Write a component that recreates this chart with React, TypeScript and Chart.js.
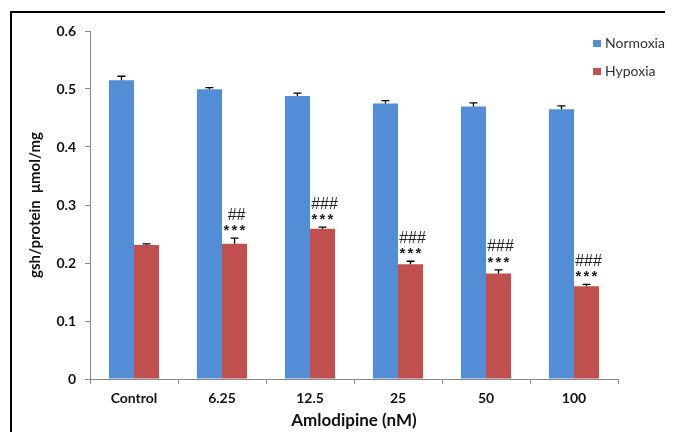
import React, { useEffect, useRef } from "react";
import { Chart, registerables } from "chart.js";

Chart.register(...registerables);

const categories = ["Control", "6.25", "12.5", "25", "50", "100"];
const normoxia = [0.515, 0.4995, 0.488, 0.475, 0.470, 0.465];
const normoxiaErr = [0.007, 0.003, 0.005, 0.005, 0.006, 0.006];
const hypoxia = [0.231, 0.233, 0.259, 0.198, 0.182, 0.160];
const hypoxiaErr = [0.002, 0.010, 0.003, 0.005, 0.006, 0.003];
const stars = ["", "***", "***", "***", "***", "***"];
const hashes = ["", "##", "###", "###", "###", "###"];
const yTicks = [0, 0.1, 0.2, 0.3, 0.4, 0.5, 0.6];

const BLUE = "#538DD5";
const RED = "#C0504D";
const TICK_FONT = { family: "Lato", size: 14, weight: "bold" as const };

const errorAndMarks = {
  id: "errorAndMarks",
  afterDatasetsDraw(chart: any) {
    const ctx = chart.ctx;
    const y = chart.scales.y;
    const errs = [normoxiaErr, hypoxiaErr];
    ctx.save();
    chart.data.datasets.forEach((ds: any, di: number) => {
      const meta = chart.getDatasetMeta(di);
      meta.data.forEach((bar: any, i: number) => {
        const v = ds.data[i];
        const top = y.getPixelForValue(v + errs[di][i]);
        const base = y.getPixelForValue(v);
        ctx.strokeStyle = "#000";
        ctx.lineWidth = 1.3;
        ctx.beginPath();
        ctx.moveTo(bar.x, base);
        ctx.lineTo(bar.x, top);
        ctx.moveTo(bar.x - 4, top);
        ctx.lineTo(bar.x + 4, top);
        ctx.stroke();
        if (di === 1) {
          ctx.fillStyle = "#222";
          ctx.textAlign = "center";
          ctx.textBaseline = "alphabetic";
          ctx.font = "bold 15px 'Liberation Sans'";
          const s = stars[i];
          for (let k = 0; k < s.length; k++) {
            ctx.fillText("*", bar.x + (k - (s.length - 1) / 2) * 8, top - 3);
          }
          ctx.font = "16px 'Liberation Sans'";
          if (hashes[i]) {
            ctx.fillText(hashes[i], bar.x + 2, top - 18.5);
          }
        }
      });
    });
    ctx.restore();
  },
};

const legendPlugin = {
  id: "customLegend",
  afterDraw(chart: any) {
    const ctx = chart.ctx;
    const items = [
      { label: "Normoxia", color: BLUE },
      { label: "Hypoxia", color: RED },
    ];
    ctx.save();
    items.forEach((it, i) => {
      const yy = 32 + i * 28;
      ctx.fillStyle = it.color;
      ctx.fillRect(585, yy, 8, 7);
      ctx.fillStyle = "#333";
      ctx.font = "14px 'Lato'";
      ctx.textAlign = "left";
      ctx.textBaseline = "middle";
      ctx.fillText(it.label, 597, yy + 3.5);
    });
    ctx.restore();
  },
};

export default function App() {
  const ref = useRef<HTMLCanvasElement | null>(null);
  useEffect(() => {
    if (!ref.current) return;
    const chart = new Chart(ref.current, {
      type: "bar",
      data: {
        labels: categories,
        datasets: [
          { label: "Normoxia", data: normoxia, backgroundColor: BLUE },
          { label: "Hypoxia", data: hypoxia, backgroundColor: RED },
        ],
      },
      options: {
        animation: false,
        responsive: false,
        maintainAspectRatio: false,
        events: [],
        layout: { padding: { top: 23, right: 55, left: 0, bottom: 0 } },
        plugins: {
          legend: { display: false },
          tooltip: { enabled: false },
        },
        datasets: {
          bar: { categoryPercentage: 0.57, barPercentage: 1.0 },
        },
        scales: {
          x: {
            offset: true,
            grid: {
              offset: true,
              drawOnChartArea: false,
              drawTicks: true,
              tickLength: 5,
              color: "#888",
            },
            border: { display: true, color: "#888", width: 1 },
            ticks: { color: "#111", font: TICK_FONT, padding: 6 },
            title: {
              display: true,
              text: "Amlodipine (nM)",
              color: "#111",
              font: { family: "Lato", size: 17, weight: "bold" },
              padding: { top: 0, bottom: 1 },
            },
            afterFit(scale: any) {
              scale.height = 53;
            },
          },
          y: {
            min: 0,
            max: 0.6,
            afterBuildTicks(scale: any) {
              scale.ticks = yTicks.map((v) => ({ value: v }));
            },
            grid: {
              drawOnChartArea: false,
              drawTicks: true,
              tickLength: 5,
              color: "#888",
            },
            border: { display: true, color: "#888", width: 1 },
            ticks: {
              color: "#111",
              font: TICK_FONT,
              padding: 9,
              callback: (v: any) => String(Math.round(Number(v) * 10) / 10),
            },
            title: {
              display: true,
              text: "gsh/protein  μmol/mg",
              color: "#111",
              font: { family: "Lato", size: 15, weight: "bold" },
              padding: { top: 18, bottom: 0 },
            },
            afterFit(scale: any) {
              scale.width = 82;
            },
          },
        },
      },
      plugins: [errorAndMarks, legendPlugin],
    });
    return () => chart.destroy();
  }, []);

  return (
    <div style={{ position: "relative", width: 665, height: 424, overflow: "hidden" }}>
      <div
        style={{
          position: "absolute",
          left: 2,
          top: 3,
          right: -10,
          bottom: -10,
          borderLeft: "2px solid #000",
          borderTop: "2px solid #000",
        }}
      />
      <canvas
        ref={ref}
        width={665}
        height={424}
        style={{ position: "absolute", left: 0, top: 0, width: 665, height: 424 }}
      />
    </div>
  );
}
